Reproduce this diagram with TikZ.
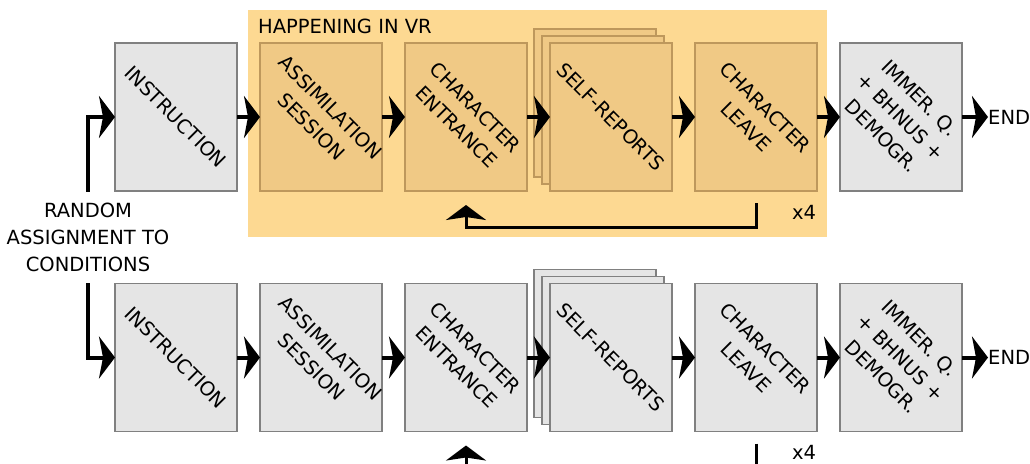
\documentclass[tikz,border=0pt]{standalone}
\usepackage{fontspec}
\setmainfont{DejaVu Sans}
\usetikzlibrary{arrows.meta,positioning,calc,shadows}
\definecolor{vrback}{RGB}{253,217,146}
\definecolor{vrbox}{RGB}{240,201,133}
\definecolor{vredge}{RGB}{190,152,92}
\definecolor{boxfill}{RGB}{229,229,229}
\definecolor{boxedge}{RGB}{128,128,128}
\tikzset{
  stage/.style={draw=boxedge, fill=boxfill, line width=1.2pt, minimum width=122pt, minimum height=148pt, inner sep=0pt, outer sep=0pt},
  vrstage/.style={stage, draw=vredge, fill=vrbox},
  tilted/.style={rotate=-45, align=center, inner sep=0pt},
  flow/.style={line width=4pt, -{Stealth[length=16pt,width=42pt,inset=4pt]}},
  back/.style={line width=3pt, -{Stealth[length=15pt,width=40pt,inset=3pt]}},
}
\begin{document}
\begin{tikzpicture}[x=1pt,y=-1pt,font=\fontsize{19.5}{27}\selectfont]
\useasboundingbox (0,0) rectangle (1030,463);
\clip (0,0) rectangle (1030,463);
% VR part of the top condition
\fill[vrback] (248,10) rectangle (827,237);
\node[anchor=base west, inner sep=0pt] (vrlabel) at (258,33) {HAPPENING IN VR};

\foreach \r/\y/\s in {1/117/vrstage, 2/357.5/stage}{
  \node[stage] (instr\r) at (176,\y) {};
  \node[\s, right=23pt of instr\r] (assim\r) {};
  \node[\s, right=23pt of assim\r] (entr\r) {};
  \node[\s, right=23pt of entr\r, double copy shadow={shadow xshift=-8pt, shadow yshift=7pt}] (self\r) {};
  \node[\s, right=23pt of self\r] (leave\r) {};
  \node[stage, right=23pt of leave\r] (immer\r) {};
  \node[anchor=west, inner sep=0pt] (end\r) at (988,\y) {END};

  \node[tilted] (instr\r-txt) at (instr\r.center) {INSTRUCTION};
  \node[tilted] (assim\r-txt) at (assim\r.center) {ASSIMILATION\\SESSION};
  \node[tilted] (entr\r-txt) at (entr\r.center) {CHARACTER\\ENTRANCE};
  \node[tilted] (self\r-txt) at (self\r.center) {SELF-REPORTS};
  \node[tilted] (leave\r-txt) at (leave\r.center) {CHARACTER\\LEAVE};
  \node[tilted] (immer\r-txt) at (immer\r.center) {IMMER. Q.\\+ BHNUS +\\DEMOGR.};

  \draw[flow] (instr\r) -- (assim\r);
  \draw[flow] (assim\r) -- (entr\r);
  \draw[flow] (entr\r) -- (self\r);
  \draw[flow] (self\r) -- (leave\r);
  \draw[flow] (leave\r) -- (immer\r);
  \draw[flow] (immer\r.east) -- (end\r.west);

  % repeat loop
  \coordinate (loopa\r) at ($(leave\r.south)+(0,12)$);
  \coordinate (loopb\r) at ($(entr\r.south)+(0,14)$);
  \draw[back] (loopa\r) -- ++(0,24) -| (loopb\r);
  \node (rep\r) at ($(leave\r.south)+(48,21)$) {x4};
}

\node[align=center, inner sep=0pt, minimum height=91pt] (random) at (88,237.5) {RANDOM\\ASSIGNMENT TO\\CONDITIONS};
\draw[flow] (random.north) |- (instr1.west);
\draw[flow] (random.south) |- (instr2.west);
\end{tikzpicture}
\end{document}
